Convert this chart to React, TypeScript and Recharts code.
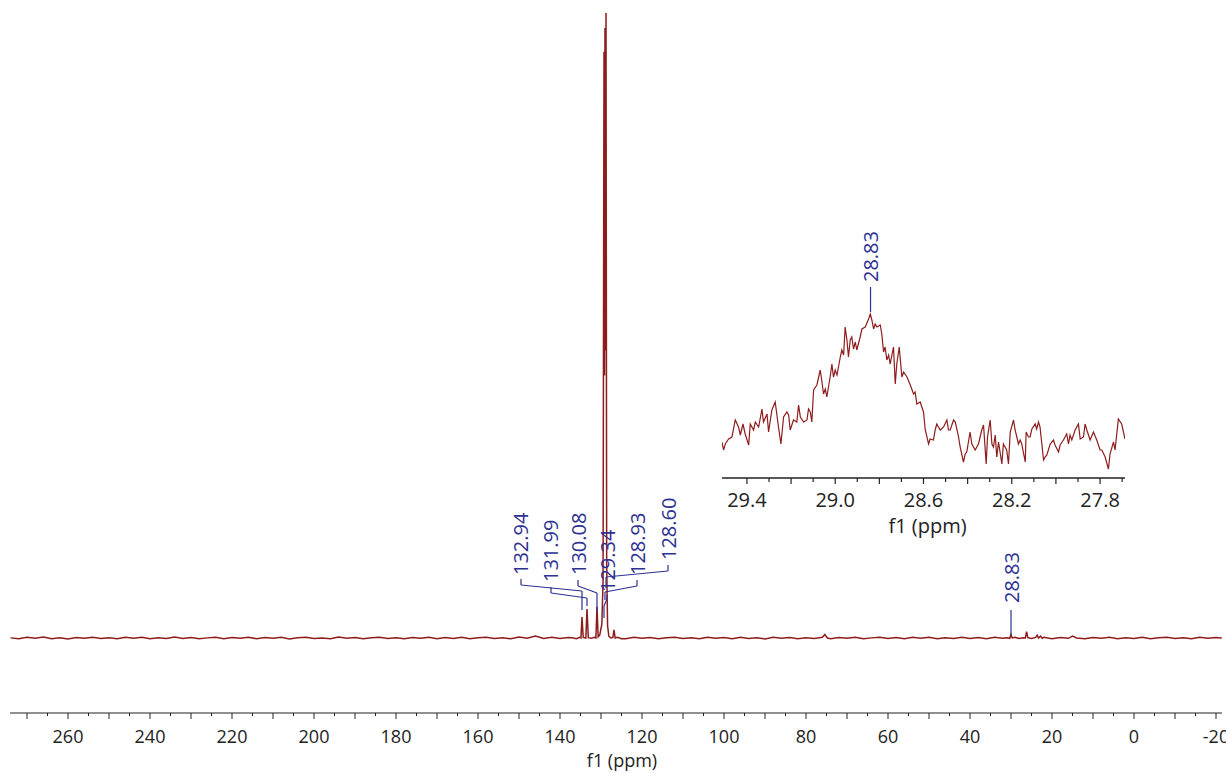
import { Label, Line, LineChart, ReferenceDot, ReferenceLine, XAxis, YAxis } from "recharts";

const RED = "#8e1c1c";
const BLUE = "#2d3192";
const INK = "#222";
const FONT = "'Open Sans', sans-serif";

// [ppm, intensity]
const noiseLeft: [number, number][] = [
  [274, 0.02], [272, -0.12], [270, 0.1], [268, -0.05], [266, 0.14], [264, -0.1], [262, 0.04], [260, -0.14],
  [258, 0.08], [256, -0.02], [254, 0.12], [252, -0.09], [250, 0.05], [248, -0.13], [246, 0.1], [244, -0.04],
  [242, 0.13], [240, -0.11], [238, 0.03], [236, -0.08], [234, 0.15], [232, -0.06], [230, 0.09], [228, -0.12],
  [226, 0.02], [224, 0.11], [222, -0.1], [220, 0.06], [218, -0.03], [216, 0.13], [214, -0.12], [212, 0.07],
  [210, -0.05], [208, 0.1], [206, -0.14], [204, 0.04], [202, 0.12], [200, -0.08], [198, 0.01], [196, -0.11],
  [194, 0.14], [192, -0.04], [190, 0.08], [188, -0.13], [186, 0.05], [184, 0.11], [182, -0.07], [180, 0.03],
  [178, -0.12], [176, 0.09], [174, -0.02], [172, 0.13], [170, -0.1], [168, 0.06], [166, -0.06], [164, 0.12],
  [162, -0.13], [160, 0.04], [158, 0.1], [156, -0.09], [154, 0.02], [152, -0.12], [150, 0.14], [148, -0.05],
  [146, 0.3], [144, -0.08], [142, 0.1], [140, -0.06], [138, 0.08],
];

const aromaticCluster: [number, number][] = [
  [137.0, 0.05], [136.0, -0.1], [135.2, 0.1], [134.9, 0.0], [134.64, 3.36], [134.35, 0.1], [133.7, 0.0],
  [133.42, 4.64], [133.1, 0.05], [132.3, -0.05], [131.6, 0.1], [131.25, 0.0], [130.98, 5.0], [130.7, 0.2],
  [130.3, 0.5], [129.8, 2.2], [129.5, 9], [129.27, 93.8], [129.15, 42], [129.03, 97.6], [128.9, 46],
  [128.78, 100], [128.62, 12], [128.4, 2], [128.1, 0.3], [127.6, 0.0], [127.1, 0.1], [126.83, 1.3],
  [126.55, 0.0], [126.0, 0.1], [125.0, -0.1],
];

const noiseMid: [number, number][] = [
  [124, -0.1], [122, 0.12], [120, -0.04], [118, 0.09], [116, -0.13], [114, 0.05], [112, 0.11], [110, -0.08],
  [108, 0.03], [106, -0.12], [104, 0.13], [102, -0.03], [100, 0.07], [98, -0.11], [96, 0.1], [94, -0.06],
  [92, 0.04], [90, -0.14], [88, 0.12], [86, -0.02], [84, 0.08], [82, -0.1], [80, 0.05], [78, -0.07],
  [76, 0.12], [75.4, 0.55], [74.8, 0.0], [74, -0.12], [72, 0.09], [70, -0.05], [68, 0.13], [66, -0.1],
  [64, 0.02], [62, 0.11], [60, -0.09], [58, 0.06], [56, -0.13], [54, 0.1], [52, -0.03], [50, 0.12],
  [48, -0.11], [46, 0.04], [44, -0.06], [42, 0.13], [40, -0.08], [38, 0.07], [36, -0.12], [34, 0.1], [32, -0.04],
];

const aliphaticPeaks: [number, number][] = [
  [31, 0.05], [30.3, -0.05], [30.0, 0.55], [29.7, 0.0], [29, 0.1], [28, -0.08], [27, 0.05], [26.5, 0.0],
  [26.2, 1.0], [25.9, 0.05], [25, -0.06], [24, 0.1], [23.6, 0.45], [23.3, 0.0], [22.8, 0.3], [22.4, -0.05],
];

const noiseRight: [number, number][] = [
  [22, 0.1], [20, -0.1], [18, 0.06], [16, -0.05], [15, 0.3], [14, 0.0], [12, -0.12], [10, 0.09], [8, -0.04],
  [6, 0.12], [4, -0.1], [2, 0.05], [0, -0.07], [-2, 0.11], [-4, -0.13], [-6, 0.04], [-8, 0.1], [-10, -0.09],
  [-12, 0.02], [-14, -0.12], [-16, 0.13], [-18, -0.05], [-20, 0.08], [-21.4, 0.0],
];

// expanded view around 28.8 ppm
const insetTrace: [number, number][] = [
  [29.513, 36], [29.506, 28], [29.498, 34], [29.483, 39], [29.468, 41], [29.453, 58], [29.438, 51], [29.43, 43],
  [29.418, 54], [29.408, 44], [29.392, 33], [29.385, 54], [29.37, 48], [29.362, 56], [29.347, 51], [29.332, 69],
  [29.325, 56], [29.309, 64], [29.302, 46], [29.287, 68], [29.272, 76], [29.257, 51], [29.246, 34], [29.234, 61],
  [29.219, 66], [29.211, 63], [29.204, 48], [29.189, 58], [29.174, 56], [29.166, 73], [29.158, 61], [29.143, 56],
  [29.128, 58], [29.121, 69], [29.113, 66], [29.106, 56], [29.098, 88], [29.083, 93], [29.068, 108], [29.06, 96],
  [29.053, 84], [29.045, 89], [29.038, 81], [29.023, 101], [29.015, 114], [29.008, 101], [29.0, 108], [28.992, 103],
  [28.977, 121], [28.97, 128], [28.962, 123], [28.955, 151], [28.947, 138], [28.94, 121], [28.932, 138], [28.925, 141],
  [28.917, 129], [28.909, 136], [28.902, 128], [28.887, 141], [28.879, 149], [28.864, 151], [28.849, 159], [28.841, 164],
  [28.834, 158], [28.826, 149], [28.819, 154], [28.811, 151], [28.796, 153], [28.789, 144], [28.781, 126], [28.774, 131],
  [28.766, 118], [28.758, 123], [28.751, 114], [28.736, 131], [28.728, 94], [28.721, 114], [28.71, 131], [28.698, 101],
  [28.69, 106], [28.675, 101], [28.66, 93], [28.645, 84], [28.638, 86], [28.63, 74], [28.615, 76], [28.6, 66],
  [28.592, 48], [28.577, 34], [28.57, 39], [28.555, 38], [28.547, 48], [28.54, 54], [28.524, 48], [28.509, 51],
  [28.494, 58], [28.487, 48], [28.479, 48], [28.464, 58], [28.456, 56], [28.441, 41], [28.434, 31], [28.419, 16],
  [28.411, 24], [28.404, 26], [28.389, 46], [28.381, 34], [28.366, 28], [28.351, 34], [28.336, 48], [28.328, 53],
  [28.316, 14], [28.31, 41], [28.298, 58], [28.29, 34], [28.283, 31], [28.275, 43], [28.268, 21], [28.26, 36],
  [28.245, 14], [28.238, 34], [28.223, 28], [28.215, 14], [28.207, 46], [28.192, 58], [28.185, 48], [28.177, 41],
  [28.17, 34], [28.162, 38], [28.155, 34], [28.139, 16], [28.135, 46], [28.124, 41], [28.117, 41], [28.109, 49],
  [28.094, 54], [28.087, 49], [28.079, 56], [28.072, 51], [28.056, 18], [28.049, 21], [28.041, 23], [28.026, 34],
  [28.011, 38], [28.004, 33], [27.988, 26], [27.981, 33], [27.966, 38], [27.951, 44], [27.943, 34], [27.936, 43],
  [27.928, 38], [27.913, 48], [27.898, 54], [27.89, 39], [27.875, 41], [27.868, 54], [27.86, 48], [27.845, 38],
  [27.83, 46], [27.815, 38], [27.8, 28], [27.792, 28], [27.777, 21], [27.762, 9], [27.755, 24], [27.739, 36],
  [27.732, 28], [27.717, 59], [27.702, 54], [27.687, 39],
];

const mainTicks = [
  270, 265, 260, 255, 250, 245, 240, 235, 230, 225, 220, 215, 210, 205, 200, 195, 190, 185, 180, 175, 170, 165,
  160, 155, 150, 145, 140, 135, 130, 125, 120, 115, 110, 105, 100, 95, 90, 85, 80, 75, 70, 65, 60, 55, 50, 45,
  40, 35, 30, 25, 20, 15, 10, 5, 0, -5, -10, -15, -20,
];
const insetTicks = [29.4, 29.3, 29.2, 29.1, 29.0, 28.9, 28.8, 28.7, 28.6, 28.5, 28.4, 28.3, 28.2, 28.1, 28.0, 27.9, 27.8, 27.7];

// peak-pick labels: text anchor (ppm, intensity) and the leader path down to the peak
const peakLabels: { text: string; at: [number, number]; path: [number, number][] }[] = [
  { text: "132.94", at: [149.52, 10.08], path: [[149.52, 9.44], [149.52, 8.48], [134.64, 7.52], [134.64, 4.48]] },
  { text: "131.99", at: [142.2, 8.96], path: [[142.2, 8.16], [142.2, 7.2], [133.42, 6.4], [133.42, 5.12]] },
  { text: "130.08", at: [135.61, 10.08], path: [[135.61, 9.28], [135.61, 8.32], [130.98, 7.2], [130.98, 4.16]] },
  { text: "129.34", at: [128.54, 7.36], path: [[128.54, 6.88], [128.54, 6.24], [129.27, 5.12], [129.27, 3.2]] },
  { text: "128.93", at: [121.22, 10.08], path: [[121.22, 9.28], [121.22, 8.32], [129.03, 7.36], [129.03, 6.08]] },
  { text: "128.60", at: [113.66, 12.48], path: [[113.66, 11.68], [113.66, 10.72], [128.78, 9.76], [128.78, 8.0]] },
  { text: "28.83", at: [30.0, 5.6], path: [[30.0, 4.48], [30.0, 0.48]] },
];
const insetLabel = { text: "28.83", at: [28.84, 196] as [number, number], path: [[28.84, 191], [28.84, 166]] as [number, number][] };

const toPoints = (pairs: [number, number][]) => pairs.map(([ppm, v]) => ({ ppm, v }));
const mainData = toPoints([...noiseLeft, ...aromaticCluster, ...noiseMid, ...aliphaticPeaks, ...noiseRight]);
const insetData = toPoints(insetTrace);

const vText = (text: string) => (p: any) => (
  <text
    x={p.cx}
    y={p.cy}
    transform={`rotate(-90 ${p.cx} ${p.cy})`}
    textAnchor="start"
    dominantBaseline="central"
    fill={BLUE}
    fontSize={20}
    fontFamily={FONT}
  >
    {text}
  </text>
);

function leader(path: [number, number][], key: string) {
  const out = [];
  for (let i = 1; i < path.length; i += 1) {
    out.push(
      <ReferenceLine
        key={`${key}-${i}`}
        segment={[{ x: path[i - 1][0], y: path[i - 1][1] }, { x: path[i][0], y: path[i][1] }]}
        stroke={BLUE}
        strokeWidth={1.2}
        ifOverflow="visible"
      />
    );
  }
  return out;
}

function MainTick(props: any) {
  const { x, y, payload } = props;
  const v = payload.value as number;
  const major = v % 10 === 0;
  return (
    <g>
      <line x1={x} x2={x} y1={y} y2={y + (major ? 6 : 3)} stroke={INK} strokeWidth={1} />
      {v % 20 === 0 ? (
        <text x={x} y={y + 30} textAnchor="middle" fill={INK} fontSize={18} fontFamily={FONT}>
          {v}
        </text>
      ) : null}
    </g>
  );
}

function InsetTick(props: any) {
  const { x, y, payload } = props;
  const k = Math.round(payload.value * 10);
  return (
    <g>
      <line x1={x} x2={x} y1={y} y2={y + (k % 2 === 0 ? 6 : 4)} stroke={INK} strokeWidth={1.2} />
      {k % 4 === 2 ? (
        <text x={x} y={y + 29} textAnchor="middle" fill={INK} fontSize={20} fontFamily={FONT}>
          {payload.value.toFixed(1)}
        </text>
      ) : null}
    </g>
  );
}

export default function App() {
  return (
    <div style={{ position: "absolute", left: 0, top: 0, width: 1226, height: 773, background: "#fff", overflow: "hidden" }}>
      <LineChart width={1226} height={773} data={mainData} margin={{ top: 8, right: 4, bottom: 0, left: 10 }}>
        <XAxis
          dataKey="ppm"
          type="number"
          domain={[-21.46, 274.15]}
          reversed
          allowDataOverflow
          ticks={mainTicks}
          interval={0}
          tick={<MainTick />}
          tickLine={false}
          tickSize={0}
          tickMargin={0}
          axisLine={{ stroke: INK, strokeWidth: 1 }}
          height={60}
        >
          <Label value="f1 (ppm)" position="insideBottom" offset={6} dx={6} style={{ fontSize: 18, fontFamily: FONT, fill: INK }} />
        </XAxis>
        <YAxis type="number" domain={[-12, 100.8]} hide width={0} allowDataOverflow />
        <Line type="linear" dataKey="v" stroke={RED} strokeWidth={1.5} dot={false} isAnimationActive={false} />
        {peakLabels.map((p) => leader(p.path, p.text))}
        {peakLabels.map((p) => (
          <ReferenceDot key={`t-${p.text}`} x={p.at[0]} y={p.at[1]} r={0} ifOverflow="visible" shape={vText(p.text)} />
        ))}
      </LineChart>

      <div style={{ position: "absolute", left: 700, top: 220 }}>
        <LineChart width={440} height={322} data={insetData} margin={{ top: 0, right: 15, bottom: 0, left: 22 }}>
          <XAxis
            dataKey="ppm"
            type="number"
            domain={[27.687, 29.513]}
            reversed
            allowDataOverflow
            ticks={insetTicks}
            interval={0}
            tick={<InsetTick />}
            tickLine={false}
            tickSize={0}
            tickMargin={0}
            axisLine={{ stroke: INK, strokeWidth: 1.5 }}
            height={64}
          >
            <Label value="f1 (ppm)" position="insideBottom" offset={9} dx={4} style={{ fontSize: 20, fontFamily: FONT, fill: INK }} />
          </XAxis>
          <YAxis type="number" domain={[0, 258]} hide width={0} allowDataOverflow />
          <Line type="linear" dataKey="v" stroke={RED} strokeWidth={1.2} dot={false} isAnimationActive={false} />
          {leader(insetLabel.path, "inset")}
          <ReferenceDot x={insetLabel.at[0]} y={insetLabel.at[1]} r={0} ifOverflow="visible" shape={vText(insetLabel.text)} />
        </LineChart>
      </div>
    </div>
  );
}
